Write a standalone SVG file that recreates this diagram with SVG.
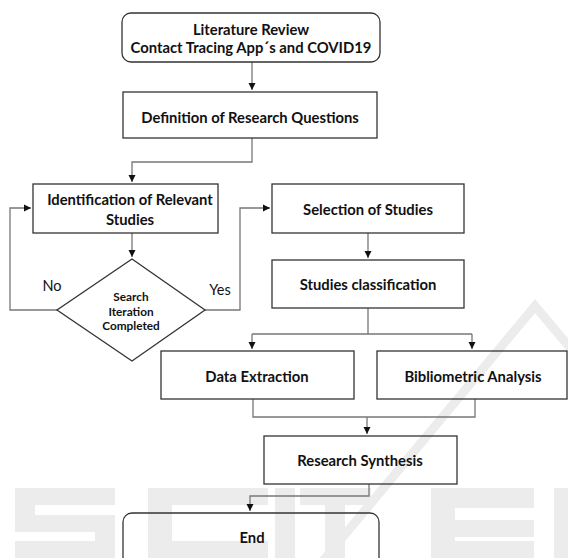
<svg xmlns="http://www.w3.org/2000/svg" width="568" height="558" viewBox="0 0 568 558">
<style>
.box{fill:none;stroke:#333;stroke-width:1.3}
.t{font-family:Lato,"Liberation Sans",sans-serif;font-weight:bold;font-size:14.8px;fill:#111;text-anchor:middle;dominant-baseline:central}
.s{font-size:11.8px}
.lbl{font-family:Lato,"Liberation Sans",sans-serif;font-size:14.5px;fill:#111;text-anchor:middle;dominant-baseline:central}
.c{fill:none;stroke:#777;stroke-width:1.3}
.wm{fill:#ececec}
</style>
<defs>
<marker id="a" markerWidth="8" markerHeight="8" refX="7" refY="4" orient="auto" markerUnits="userSpaceOnUse">
<path d="M0,0.5 L7,4 L0,7.5 Z" fill="#111"/>
</marker>
</defs>
<g id="watermark">
<path d="M322,562 L535,306 L572,350" fill="none" stroke="#ececec" stroke-width="9"/>
<path class="wm" d="M15,488 H115 V505 H35 V515 H115 V558 H15 V541 H95 V532 H15 Z"/>
<path class="wm" d="M148,488 H268 V505 H172 V541 H268 V558 H148 Z"/>
<path class="wm" d="M275,488 H295 V558 H275 Z"/>
<path class="wm" d="M300,488 H371 V505 H345 V558 H325 V505 H300 Z"/>
<path class="wm" d="M431,488 H534 V508 H455 V520 H534 V537 H455 V541 H534 V558 H431 Z"/>
<path class="wm" d="M554,488 H568 V558 H554 Z"/>
</g>
<g id="connectors">
<path class="c" d="M252,62 V90" marker-end="url(#a)"/>
<path class="c" d="M252,138 V162 H132 V182" marker-end="url(#a)"/>
<path class="c" d="M132,233 V257" marker-end="url(#a)"/>
<path class="c" d="M57,310 H10 V208 H31" marker-end="url(#a)"/>
<path class="c" d="M205,310 H240 V208 H270" marker-end="url(#a)"/>
<path class="c" d="M368,233 V258" marker-end="url(#a)"/>
<path class="c" d="M368,308 V334 M252,334 H472"/>
<path class="c" d="M252,334 V349" marker-end="url(#a)"/>
<path class="c" d="M472,334 V349" marker-end="url(#a)"/>
<path class="c" d="M253,399 V417 H475 V399"/>
<path class="c" d="M367,417 V434" marker-end="url(#a)"/>
<path class="c" d="M369,484 V496 H250 V511" marker-end="url(#a)"/>
<text class="lbl" x="52" y="285">No</text>
<text class="lbl" x="220" y="289">Yes</text>
</g>
<g id="n1">
<rect class="box" x="122" y="13" width="258" height="49" rx="9"/>
<text class="t" x="251" y="29">Literature Review</text>
<text class="t" x="251" y="47">Contact Tracing App´s and COVID19</text>
</g>
<g id="n2">
<rect class="box" x="123" y="92" width="254" height="46"/>
<text class="t" x="250" y="117">Definition of Research Questions</text>
</g>
<g id="n3">
<rect class="box" x="33" y="184" width="185" height="49"/>
<text class="t" x="130" y="199">Identification of Relevant</text>
<text class="t" x="130" y="219">Studies</text>
</g>
<g id="n4">
<path class="box" d="M132,259 L205,310 L132,361 L57,310 Z"/>
<text class="t s" x="131" y="296">Search</text>
<text class="t s" x="131" y="311">Iteration</text>
<text class="t s" x="131" y="325">Completed</text>
</g>
<g id="n5">
<rect class="box" x="272" y="184" width="192" height="49"/>
<text class="t" x="368" y="209">Selection of Studies</text>
</g>
<g id="n6">
<rect class="box" x="272" y="260" width="192" height="48"/>
<text class="t" x="368" y="284">Studies classification</text>
</g>
<g id="n7">
<rect class="box" x="161" y="351" width="193" height="48"/>
<text class="t" x="257" y="376">Data Extraction</text>
</g>
<g id="n8">
<rect class="box" x="377" y="351" width="190" height="48"/>
<text class="t" x="473" y="376">Bibliometric Analysis</text>
</g>
<g id="n9">
<rect class="box" x="264" y="436" width="193" height="48"/>
<text class="t" x="360" y="460">Research Synthesis</text>
</g>
<g id="n10">
<rect class="box" x="123" y="513" width="256" height="56" rx="9"/>
<text class="t" x="252" y="537">End</text>
</g>
</svg>
